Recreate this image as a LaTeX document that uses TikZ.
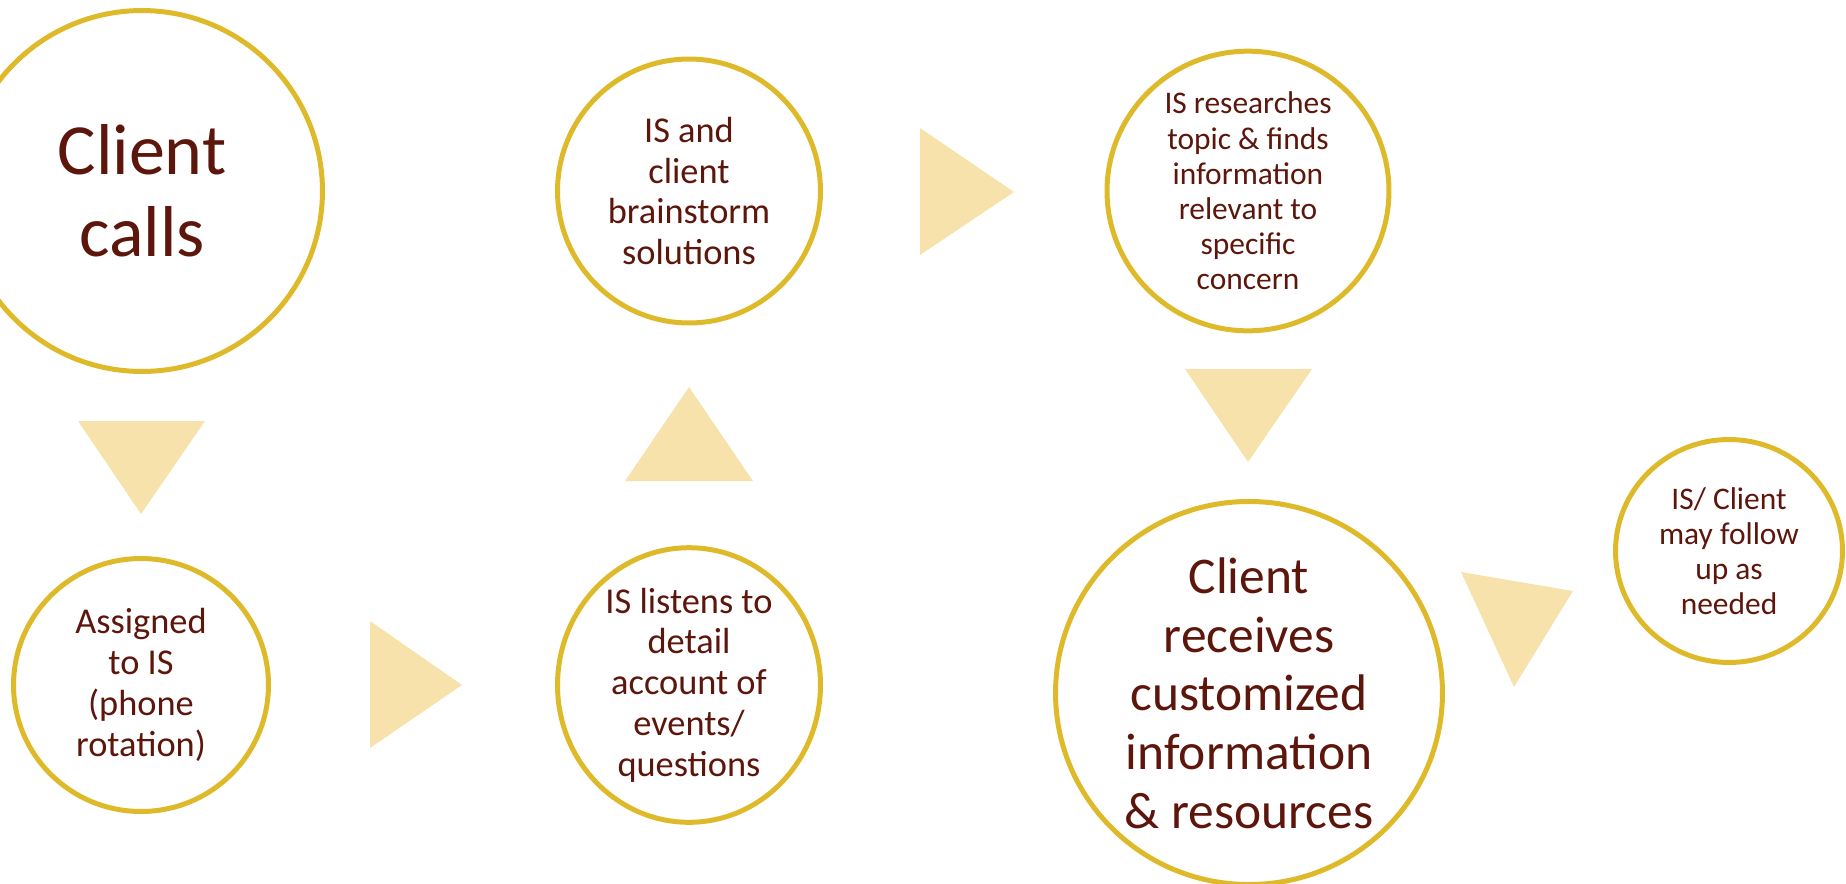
\documentclass[tikz,border=0pt]{standalone}
\usepackage{fontspec}
\setmainfont{Carlito}
\usepackage{tikz}
\usetikzlibrary{shapes.geometric}

\definecolor{ringgold}{RGB}{222,186,43}
\definecolor{arrowtan}{RGB}{248,226,172}
\definecolor{textmaroon}{RGB}{92,22,12}

\begin{document}
\begin{tikzpicture}
        [
          x=0.02cm, y=-0.02cm,
          every node/.style={align=center, text=textmaroon},
          stage/.style={ellipse, draw=ringgold, line width=0.1cm, inner sep=0pt},
          flowtri/.style={fill=arrowtan},
          hugetext/.style={font=\fontsize{41}{46.7}\selectfont},
          largetext/.style={font=\fontsize{29.3}{33.4}\selectfont},
          midtext/.style={font=\fontsize{20.7}{23.2}\selectfont},
          smalltext/.style={font=\fontsize{17.9}{20}\selectfont}
        ]

        \useasboundingbox (0,0) rectangle (1846,883);

        \node[stage, hugetext, minimum width=7.22cm, minimum height=7.22cm] (calls) at (142,191) {Client\\calls};
        \node[stage, midtext, minimum width=5.1cm, minimum height=5.06cm] (assigned) at (141,685) {Assigned\\to IS\\(phone\\rotation)};
        \node[stage, midtext, minimum width=5.26cm, minimum height=5.42cm] (listens) at (689,685) {IS listens to\\detail\\account of\\events/\\questions};
        \node[stage, midtext, minimum width=5.26cm, minimum height=5.28cm] (brainstorm) at (689,191) {IS and\\client\\brainstorm\\solutions};
        \node[stage, smalltext, minimum width=5.64cm, minimum height=5.26cm] (researches) at (1248,191) {IS researches\\topic \& finds\\information\\relevant to\\specific\\concern};
        \node[stage, largetext, minimum width=7.74cm, minimum height=7.62cm] (receives) at (1249,693) {Client\\receives\\customized\\information\\\& resources};
        \node[stage, smalltext, minimum width=4.54cm, minimum height=4.46cm] (followup) at (1729,551) {IS/ Client\\may follow\\up as\\needed};

        \fill[flowtri] (78,421) -- (205,421) -- (141,514) -- cycle;
        \fill[flowtri] (370,621) -- (462,685) -- (370,748) -- cycle;
        \fill[flowtri] (625,481) -- (689,387) -- (753,481) -- cycle;
        \fill[flowtri] (920,128) -- (1014,192) -- (920,255) -- cycle;
        \fill[flowtri] (1185,369) -- (1312,369) -- (1248,462) -- cycle;
        \fill[flowtri] (1461,572) -- (1573,591) -- (1514,687) -- cycle;
    \end{tikzpicture}
\end{document}
